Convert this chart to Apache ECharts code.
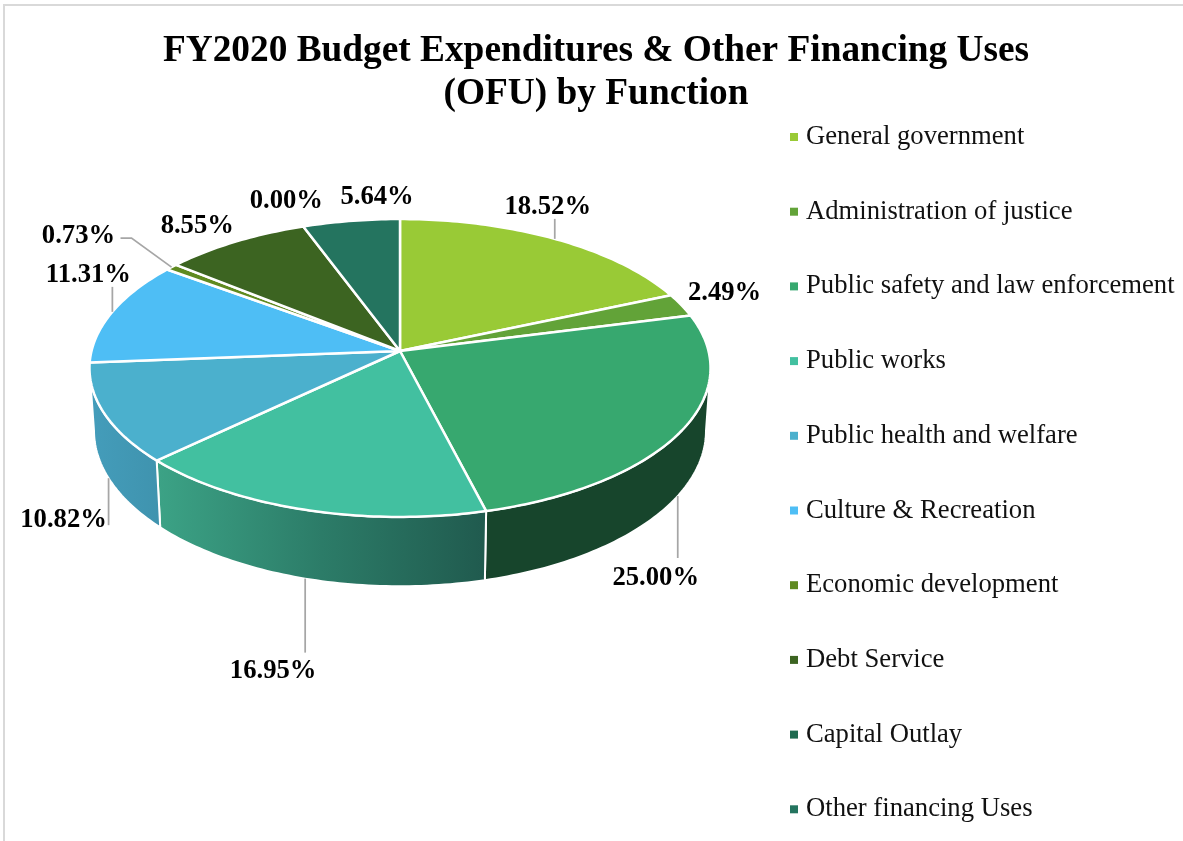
<!DOCTYPE html>
<html>
<head>
<meta charset="utf-8">
<style>html,body{margin:0;padding:0;background:#fff;overflow:hidden}#chart{width:1183px;height:841px}</style>
<script src="https://cdn.jsdelivr.net/npm/echarts@6/dist/echarts.min.js"></script>
</head>
<body>
<div id="chart"></div>
<script>
// Budget shares by function, in percent
const categories = ['General government','Administration of justice','Public safety and law enforcement','Public works','Public health and welfare','Culture & Recreation','Economic development','Debt Service','Capital Outlay','Other financing Uses'];
const shares = [18.52, 2.49, 25.00, 16.95, 10.82, 11.31, 0.73, 8.55, 0.00, 5.64];
const topColors = ['#99ca36','#62a338','#37a86f','#42c0a0','#4bb0cd','#4ebef5','#5f8a20','#3c6421','#1f6b50','#24745f'];
const wallStops = [null,null,['#17452c','#17452c'],['#3ca386','#2c7c68','#205a4e'],['#449dbb','#3f93ae'],null,null,null,null,null];

// Label placement relative to the slice's rim point; rows are [label dx, label dy], leader bends follow
const labelOffsets = [[-7,-32],[43,-12],[-22,82],[-32,93],[-45,42],[-24,-37],[-93,-31],[-38,-16],[-17,-25],[26,-24]];
const leaderBends = [[[0,-20]],[],[[0,62]],[[0,74]],[[0,47]],[[0,-25]],[[-40,-29],[-51,-29]],[],[],[]];
// Slices whose leader starts on the lower rim
const onLowerRim = [false,false,true,true,true,false,false,false,false,false];

// Projected disc: the far side is foreshortened, the lower rim slightly narrower
const hub = {x: 400, y: 351};
const perspective = 0.1141;
const upper = {ax: 308.5, ay: 147, cy: 351};
const lower = {ax: 304, ay: 153.5, cy: 413};
const wallFrom = 96.6, wallTo = 263.4;

function rim(face, deg) {
  const r = deg * Math.PI / 180, w = 1 + perspective * Math.cos(r);
  return [hub.x + face.ax * Math.sin(r) / w, face.cy - face.ay * Math.cos(r) / w];
}
function arc(face, from, to) {
  const pts = [], n = Math.max(1, Math.ceil(Math.abs(to - from)));
  for (let i = 0; i <= n; i++) pts.push(rim(face, from + (to - from) * i / n));
  return pts;
}

const total = shares.reduce((a, b) => a + b, 0);
const labelFont = {fontFamily: '"Liberation Serif"', fontWeight: 'bold', fontSize: 26.67, fill: '#000'};

function renderSlice(index, params, api) {
  const value = api.value(0);
  const before = shares.slice(0, index).reduce((a, b) => a + b, 0);
  const start = before / total * 360, end = (before + value) / total * 360;
  const mid = (start + end) / 2;
  const children = [];

  const a = Math.max(start, wallFrom), b = Math.min(end, wallTo);
  if (value > 0 && a < b && wallStops[index]) {
    const stops = wallStops[index];
    children.push({
      type: 'polygon', z2: 1,
      shape: {points: arc(upper, a, b).concat(arc(lower, b, a))},
      style: {
        fill: {type: 'linear', x: 0, y: 0, x2: 1, y2: 0,
          colorStops: stops.map((c, i) => ({offset: i / (stops.length - 1), color: c}))},
        stroke: '#fff', lineWidth: 2, lineJoin: 'round'
      }
    });
  }
  if (value > 0) {
    children.push({
      type: 'polygon', z2: 2,
      shape: {points: [[hub.x, hub.y]].concat(arc(upper, start, end))},
      style: {fill: topColors[index], stroke: '#fff', lineWidth: 2.5, lineJoin: 'round'}
    });
  }

  const anchor = rim(onLowerRim[index] ? lower : upper, mid);
  if (leaderBends[index].length) {
    const pts = [anchor].concat(leaderBends[index].map(o => [anchor[0] + o[0], anchor[1] + o[1]]));
    children.push({
      type: 'polyline', z2: 3, shape: {points: pts},
      style: {fill: 'none', stroke: '#a6a6a6', lineWidth: 1.75}
    });
  }
  const off = labelOffsets[index];
  children.push({
    type: 'text', z2: 4,
    style: Object.assign({
      text: value.toFixed(2) + '%', x: anchor[0] + off[0], y: anchor[1] + off[1],
      align: 'center', verticalAlign: 'middle'
    }, labelFont)
  });
  return {type: 'group', children};
}

const chart = echarts.init(document.getElementById('chart'), null, {renderer: 'canvas'});
chart.setOption({
  animation: false,
  backgroundColor: '#fff',
  title: {
    text: 'FY2020 Budget Expenditures & Other Financing Uses\n(OFU) by Function',
    left: 591, top: 25, textAlign: 'center',
    textStyle: {fontFamily: '"Liberation Serif"', fontWeight: 'bold', fontSize: 37.33, lineHeight: 43, color: '#000'}
  },
  legend: {
    orient: 'vertical', left: 790, top: 122, padding: 0,
    icon: 'rect', itemWidth: 8, itemHeight: 8, itemGap: 44.7,
    data: categories,
    textStyle: {fontFamily: '"Liberation Serif"', fontSize: 26.67, lineHeight: 30, color: '#111', padding: [0,0,0,3]}
  },
  graphic: [{
    type: 'polyline', silent: true, z: 0,
    shape: {points: [[4, 841], [4, 5], [1183, 5]]},
    style: {fill: 'none', stroke: '#d9d9d9', lineWidth: 2}
  }],
  series: categories.map((name, i) => ({
    type: 'custom', name, coordinateSystem: 'none', silent: true, clip: false,
    itemStyle: {color: topColors[i]},
    data: [[shares[i]]],
    renderItem: (params, api) => renderSlice(i, params, api)
  }))
});
</script>
</body>
</html>
